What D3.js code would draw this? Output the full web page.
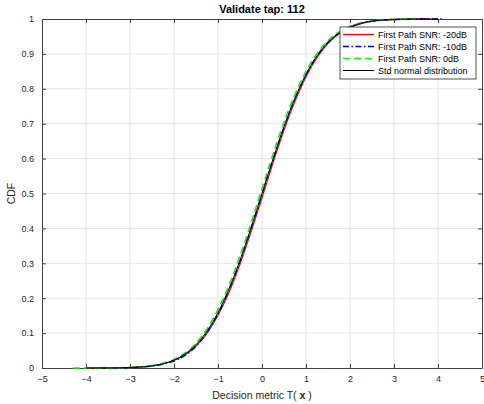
<!DOCTYPE html>
<meta charset="utf-8">
<head>
  <style>
    body { margin: 0; background: #fff; font-family: "Liberation Sans", Helvetica, Arial, sans-serif; }
    .tick text { fill: #262626; font-size: 9px; }
  </style>
  <script src="https://d3js.org/d3.v7.min.js"></script>
</head>
<body>
<div id="chart"></div>
<script>
  // *** data (CDF values)
  var xTicks = [-5, -4, -3, -2, -1, 0, 1, 2, 3, 4, 5];
  var yTicks = [0, 0.1, 0.2, 0.3, 0.4, 0.5, 0.6, 0.7, 0.8, 0.9, 1];

  var redX = [-4, -3.5, -3, -2.75, -2.5, -2.25, -2, -1.75, -1.5, -1.25, -1, -0.75, -0.5, -0.25, 0, 0.25, 0.5, 0.75, 1, 1.25, 1.5, 1.75, 2, 2.25, 2.5, 2.75, 3, 3.5, 3.8];
  var redY = [0, 0.0002, 0.0012, 0.0028, 0.0058, 0.0115, 0.0215, 0.038, 0.063, 0.100, 0.151, 0.217, 0.298, 0.390, 0.488, 0.588, 0.682, 0.765, 0.835, 0.889, 0.930, 0.958, 0.976, 0.987, 0.9935, 0.997, 0.9985, 0.9998, 1];

  var blueX = [-3.8, -3.5, -3, -2.5, -2.25, -2, -1.75, -1.5, -1.25, -1, -0.75, -0.5, -0.25, 0, 0.25, 0.5, 0.75, 1, 1.25, 1.5, 1.75, 2, 2.25, 2.5, 2.75, 3, 3.5, 4.1];
  var blueY = [0, 0.0002, 0.0011, 0.0055, 0.011, 0.020, 0.036, 0.062, 0.101, 0.155, 0.224, 0.306, 0.399, 0.498, 0.597, 0.690, 0.772, 0.840, 0.894, 0.933, 0.960, 0.977, 0.988, 0.994, 0.997, 0.9987, 0.9998, 1];

  var greenX = [-4.3, -4.1, -3.5, -3, -2.5, -2.25, -2, -1.75, -1.5, -1.25, -1, -0.75, -0.5, -0.25, 0, 0.25, 0.5, 0.75, 1, 1.25, 1.5, 1.75, 2, 2.25, 2.5, 2.75, 3, 3.5];
  var greenY = [0, 0, 0.0003, 0.0015, 0.0068, 0.0132, 0.0245, 0.043, 0.071, 0.112, 0.167, 0.237, 0.321, 0.415, 0.514, 0.612, 0.704, 0.784, 0.850, 0.901, 0.938, 0.963, 0.979, 0.989, 0.9945, 0.9975, 0.999, 1];

  var normX = [-4, -3.5, -3, -2.75, -2.5, -2.25, -2, -1.75, -1.5, -1.25, -1, -0.75, -0.5, -0.25, 0, 0.25, 0.5, 0.75, 1, 1.25, 1.5, 1.75, 2, 2.25, 2.5, 2.75, 3, 3.5, 4];
  var normY = [0, 0.0002, 0.0013, 0.003, 0.0062, 0.0122, 0.0228, 0.0401, 0.0668, 0.1056, 0.1587, 0.2266, 0.3085, 0.4013, 0.5, 0.5987, 0.6915, 0.7734, 0.8413, 0.8944, 0.9332, 0.9599, 0.9772, 0.9878, 0.9938, 0.997, 0.9987, 0.9998, 1];

  var seriesNames = ["First Path SNR: -20dB", "First Path SNR: -10dB", "First Path SNR: 0dB", "Std normal distribution"];

  // *** Set up svg
  var margin = { top: 19, right: 2, bottom: 36, left: 42 };
  var W = 484, H = 404;
  var width = W - margin.left - margin.right,
      height = H - margin.top - margin.bottom;

  var svg = d3.select("#chart").append("svg")
    .attr("width", W)
    .attr("height", H)
    .append("g")
    .attr("transform", "translate(" + margin.left + "," + margin.top + ")");

  var x = d3.scaleLinear().domain([-5, 5]).range([0, width]);
  var y = d3.scaleLinear().domain([0, 1]).range([height, 0]);

  // grid
  svg.append("g").selectAll("line").data(xTicks.slice(1, -1)).enter().append("line")
    .attr("x1", function(d) { return x(d); }).attr("x2", function(d) { return x(d); })
    .attr("y1", 0).attr("y2", height)
    .attr("stroke", "#e3e3e3").attr("stroke-width", 1);
  svg.append("g").selectAll("line").data(yTicks.slice(1, -1)).enter().append("line")
    .attr("y1", function(d) { return y(d); }).attr("y2", function(d) { return y(d); })
    .attr("x1", 0).attr("x2", width)
    .attr("stroke", "#e3e3e3").attr("stroke-width", 1);

  // axes (ticks inward, MATLAB style)
  var axisCol = "#404040";
  var xAxis = d3.axisBottom(x).tickValues(xTicks).tickSizeInner(-4).tickSizeOuter(0).tickPadding(8);
  var yAxis = d3.axisLeft(y).tickValues(yTicks).tickSizeInner(-4).tickSizeOuter(0).tickPadding(8)
    .tickFormat(function(d) { return d3.format("")(d); });

  var gx = svg.append("g").attr("transform", "translate(0," + height + ")").call(xAxis);
  var gy = svg.append("g").call(yAxis);
  svg.append("g").call(d3.axisTop(x).tickValues(xTicks).tickSizeInner(-4).tickSizeOuter(0).tickFormat(""));
  svg.append("g").attr("transform", "translate(" + width + ",0)")
    .call(d3.axisRight(y).tickValues(yTicks).tickSizeInner(-4).tickSizeOuter(0).tickFormat(""));
  svg.selectAll(".domain").attr("stroke", axisCol);
  svg.selectAll(".tick line").attr("stroke", axisCol);

  // curves
  var line = d3.line()
    .x(function(d) { return x(d[0]); })
    .y(function(d) { return y(d[1]); })
    .curve(d3.curveMonotoneX);

  var series = [
    { xs: redX, ys: redY, color: "#ff0000", dash: null, w: 1.3 },
    { xs: blueX, ys: blueY, color: "#0000ff", dash: "6,2.5,1.5,2.5", w: 1.5 },
    { xs: greenX, ys: greenY, color: "#00ff00", dash: "7,4", w: 1.6 },
    { xs: normX, ys: normY, color: "#000000", dash: null, w: 1 }
  ];

  series.forEach(function(s) {
    svg.append("path")
      .datum(d3.zip(s.xs, s.ys))
      .attr("fill", "none")
      .attr("stroke", s.color)
      .attr("stroke-width", s.w)
      .attr("stroke-dasharray", s.dash)
      .attr("d", line);
  });

  // title and labels
  svg.append("text")
    .attr("x", width / 2).attr("y", -6)
    .attr("text-anchor", "middle")
    .style("font-size", "11px").style("font-weight", "bold").attr("fill", "#000")
    .text("Validate tap: 112");

  var xl = svg.append("text")
    .attr("x", width / 2).attr("y", height + 31)
    .attr("text-anchor", "middle")
    .style("font-size", "10.5px").attr("fill", "#262626");
  xl.append("tspan").text("Decision metric T( ");
  xl.append("tspan").style("font-weight", "bold").text("x");
  xl.append("tspan").text(" )");

  svg.append("text")
    .attr("transform", "translate(" + (-27) + "," + (height / 2) + ") rotate(-90)")
    .attr("text-anchor", "middle")
    .style("font-size", "10.5px").attr("fill", "#262626")
    .text("CDF");

  // legend
  var lg = svg.append("g").attr("transform", "translate(" + (340 - margin.left) + "," + (27 - margin.top) + ")");
  lg.append("rect")
    .attr("width", 136).attr("height", 52)
    .attr("fill", "#fff").attr("stroke", "#262626").attr("stroke-width", 0.8);
  series.forEach(function(s, i) {
    var yy = 7.5 + i * 12;
    lg.append("line")
      .attr("x1", 3).attr("x2", 34).attr("y1", yy).attr("y2", yy)
      .attr("stroke", s.color).attr("stroke-width", s.w)
      .attr("stroke-dasharray", s.dash);
    lg.append("text")
      .attr("x", 38).attr("y", yy + 3.2)
      .style("font-size", "9px").attr("fill", "#000")
      .text(seriesNames[i]);
  });
</script>
</body>
